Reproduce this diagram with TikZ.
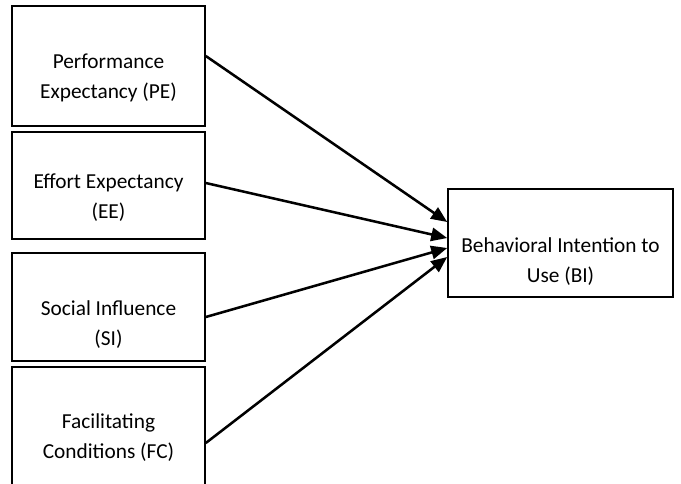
\documentclass[tikz,border=0pt]{standalone}
\usepackage{fontspec}
\setmainfont{Carlito}
\usetikzlibrary{arrows.meta,calc}

\tikzset{
  box/.style={rectangle, draw, line width=1.2pt, minimum width=144.75pt},
  txt/.style={align=center, inner sep=0pt, font=\fontsize{16}{22.5}\selectfont},
  link/.style={line width=1.9pt, -{Triangle[length=12pt,width=10pt]}}
}

\begin{document}
\begin{tikzpicture}[x=0.75pt, y=-0.75pt]
  \useasboundingbox (0,0) rectangle (681,483);
  \clip (0,0) rectangle (681,483);

  % constructs
  \node[box, minimum height=90pt] (pe) at (108.5,66) {};
  \node[box, minimum height=80.25pt] (ee) at (108.5,185.5) {};
  \node[box, minimum height=81pt] (si) at (108.5,307) {};
  \node[box, minimum height=99.75pt] (fc) at (108.5,433.5) {};
  \node[box, minimum width=168.75pt, minimum height=81pt] (bi) at (560.5,243) {};

  \node[txt] (pe-t) at ($(pe.center)+(0,12)$) {Performance\\Expectancy (PE)};
  \node[txt] (ee-t) at ($(ee.center)+(0,12)$) {Effort Expectancy\\(EE)};
  \node[txt] (si-t) at ($(si.center)+(0,18)$) {Social Influence\\(SI)};
  \node[txt] (fc-t) at ($(fc.center)+(0,4)$) {Facilitating\\Conditions (FC)};
  \node[txt] (bi-t) at ($(bi.center)+(0,19)$) {Behavioral Intention to\\Use (BI)};

  % paths
  \draw[link] ($(pe.east)+(0,-10)$) -- ($(bi.west)+(0,-21)$);
  \draw[link] ($(ee.east)+(0,-2.5)$) -- ($(bi.west)+(0,-5)$);
  \draw[link] ($(si.east)+(0,10)$) -- ($(bi.west)+(0,5)$);
  \draw[link] ($(fc.east)+(0,9.5)$) -- ($(bi.west)+(0,14)$);
\end{tikzpicture}
\end{document}
